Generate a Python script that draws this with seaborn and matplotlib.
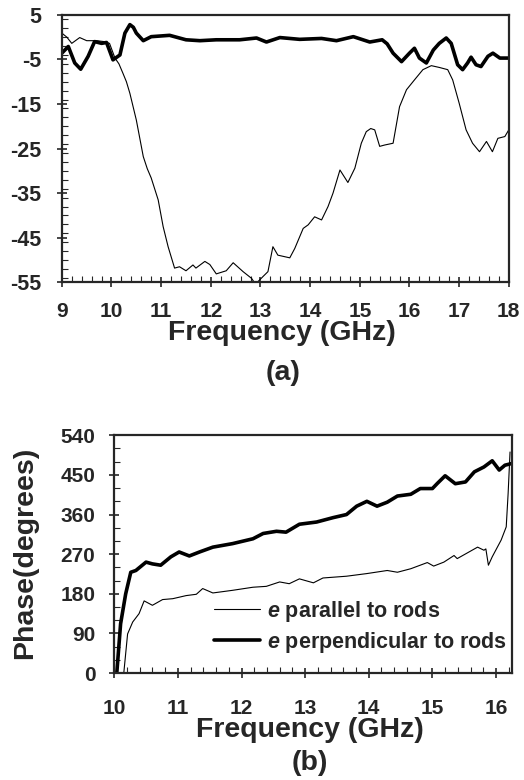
import numpy as np
import pandas as pd
import matplotlib
matplotlib.use("Agg")
import matplotlib.pyplot as plt
from matplotlib.ticker import MultipleLocator
import seaborn as sns

# ---- data: panel (a) ----
fa_thin = [9.0, 9.1, 9.2, 9.36, 9.5, 9.7, 9.85, 9.96, 10.07, 10.15, 10.23, 10.3, 10.37, 10.5, 10.64, 10.72,
           10.8, 10.94, 11.04, 11.14, 11.27, 11.37, 11.5, 11.64, 11.7, 11.88, 11.98, 12.11, 12.31, 12.45,
           12.65, 12.82, 12.9, 13.05, 13.15, 13.25, 13.35, 13.59, 13.69, 13.86, 13.96, 14.09, 14.23,
           14.36, 14.46, 14.6, 14.76, 14.9, 15.03, 15.13, 15.22, 15.3, 15.4, 15.5, 15.67, 15.8, 15.94,
           16.1, 16.27, 16.44, 16.6, 16.77, 16.87, 17.0, 17.14, 17.27, 17.41, 17.55, 17.67, 17.78,
           17.92, 18.0]
va_thin = [0.9, 0.0, -1.4, -0.1, -0.8, -0.8, -1.0, -1.4, -4.7, -6.0, -8.1, -10.0, -12.6, -18.6, -26.8,
           -29.5, -31.6, -36.5, -42.5, -47.0, -51.8, -51.5, -52.4, -51.1, -51.8, -50.3, -51.0, -53.1,
           -52.4, -50.6, -52.6, -54.1, -55.4, -53.7, -52.6, -47.0, -48.9, -49.5, -47.4, -42.9, -42.1,
           -40.3, -41.0, -38.0, -35.0, -29.8, -32.6, -29.4, -23.8, -21.2, -20.5, -20.8, -24.5, -24.2,
           -23.8, -15.6, -11.8, -9.6, -7.3, -6.4, -6.8, -7.3, -9.6, -14.8, -20.8, -23.8, -25.7,
           -23.4, -25.7, -22.7, -22.3, -20.8]

fa_thick = [9.0, 9.13, 9.26, 9.38, 9.53, 9.66, 9.8, 9.9, 10.03, 10.17, 10.27, 10.37, 10.44, 10.5, 10.64,
            10.8, 11.17, 11.5, 11.78, 12.11, 12.58, 12.92, 13.12, 13.39, 13.79, 14.23, 14.53, 14.87,
            15.2, 15.45, 15.55, 15.67, 15.84, 16.0, 16.1, 16.2, 16.34, 16.48, 16.6, 16.74, 16.84,
            16.97, 17.07, 17.17, 17.24, 17.34, 17.44, 17.58, 17.68, 17.82, 18.0]
va_thick = [-3.6, -2.1, -5.8, -7.2, -4.3, -1.0, -1.4, -1.2, -5.1, -4.0, 0.9, 2.8, 2.2, 0.9, -0.8,
            0.1, 0.4, -0.6, -0.8, -0.6, -0.6, -0.2, -1.1, -0.1, -0.5, -0.3, -0.8, 0.1, -1.1,
            -0.6, -1.5, -3.6, -5.5, -3.6, -2.5, -4.7, -5.8, -2.9, -1.4, -0.2, -1.4, -6.2, -7.3,
            -5.8, -4.5, -6.2, -6.6, -4.3, -3.6, -4.7, -4.7]

# ---- data: panel (b) ----
fb_par = [10.15, 10.21, 10.29, 10.39, 10.47, 10.6, 10.76, 10.92, 11.13, 11.29, 11.39, 11.55, 11.86,
          12.18, 12.39, 12.6, 12.75, 12.91, 13.13, 13.28, 13.65, 13.97, 14.29, 14.45, 14.66, 14.92,
          15.02, 15.18, 15.34, 15.39, 15.55, 15.71, 15.81, 15.84, 15.88, 15.94, 16.08, 16.16, 16.19, 16.22]
pb_par = [0, 89, 116, 135, 164, 154, 167, 169, 176, 179, 192, 182, 188,
          195, 197, 207, 203, 214, 205, 216, 220, 226, 233, 229, 237, 251,
          243, 252, 267, 260, 273, 286, 279, 282, 245, 264, 302, 332, 408, 502]

fb_perp = [10.04, 10.1, 10.18, 10.26, 10.34, 10.5, 10.6, 10.73, 10.89, 11.02, 11.18, 11.34, 11.55,
           11.86, 12.18, 12.34, 12.55, 12.7, 12.91, 13.18, 13.44, 13.65, 13.81, 13.97, 14.13, 14.29,
           14.45, 14.66, 14.81, 15.0, 15.08, 15.2, 15.36, 15.52, 15.66, 15.81, 15.94, 16.05, 16.14, 16.25]
pb_perp = [0, 112, 180, 229, 233, 252, 248, 245, 264, 275, 266, 275, 286,
           294, 305, 317, 322, 320, 338, 343, 353, 360, 379, 390, 379, 388,
           402, 406, 419, 419, 431, 448, 430, 434, 457, 468, 482, 461, 472, 476]

xticks_a = [9, 10, 11, 12, 13, 14, 15, 16, 17, 18]
yticks_a = [5, -5, -15, -25, -35, -45, -55]
xticks_b = [10, 11, 12, 13, 14, 15, 16]
yticks_b = [0, 90, 180, 270, 360, 450, 540]

sns.set_style("ticks")
plt.rcParams['font.family'] = ['Liberation Sans', 'DejaVu Sans']
plt.rcParams['font.weight'] = 'bold'
plt.rcParams['axes.unicode_minus'] = False
plt.rcParams['mathtext.fontset'] = 'custom'
plt.rcParams['mathtext.it'] = 'Liberation Sans:italic:bold'
plt.rcParams['mathtext.rm'] = 'Liberation Sans:bold'

fig = plt.figure(figsize=(5.24, 7.80), dpi=100)
ax1 = fig.add_axes([0.118, 0.638, 0.853, 0.343])
ax2 = fig.add_axes([0.218, 0.137, 0.759, 0.305])

# panel (a)
sns.lineplot(x=fa_thin, y=va_thin, ax=ax1, color='black', lw=0.8, sort=False)
sns.lineplot(x=fa_thick, y=va_thick, ax=ax1, color='black', lw=2.6, sort=False)
ax1.set_xlim(9, 18)
ax1.set_ylim(-55, 5)
ax1.set_xticks(xticks_a)
ax1.set_yticks(yticks_a)
ax1.xaxis.set_minor_locator(MultipleLocator(0.2))
ax1.yaxis.set_minor_locator(MultipleLocator(2))

# panel (b)
sns.lineplot(x=fb_par, y=pb_par, ax=ax2, color='black', lw=0.8, sort=False,
             label=r'$e$ parallel to rods')
sns.lineplot(x=fb_perp, y=pb_perp, ax=ax2, color='black', lw=2.6, sort=False,
             label=r'$e$ perpendicular to rods')
ax2.set_xlim(10, 16.25)
ax2.set_ylim(0, 540)
ax2.set_xticks(xticks_b)
ax2.set_yticks(yticks_b)
ax2.xaxis.set_minor_locator(MultipleLocator(0.2))
ax2.yaxis.set_minor_locator(MultipleLocator(30))
ax2.legend(loc='lower right', bbox_to_anchor=(1.01, 0.04), frameon=False,
           handlelength=2.15, handletextpad=0.33, labelspacing=0.3,
           borderaxespad=0.0, prop={'weight': 'bold', 'size': 15.5})

for ax in (ax1, ax2):
    for s in ax.spines.values():
        s.set_linewidth(1.6)
        s.set_visible(True)
    ax.tick_params(which='major', direction='inout', length=7, width=1.2,
                   labelsize=15, pad=10)
    ax.tick_params(which='minor', direction='in', length=4, width=0.8)
    for lab in ax.get_xticklabels() + ax.get_yticklabels():
        lab.set_fontweight('bold')

ax1.tick_params(axis='x', which='major', pad=11)
ax1.tick_params(axis='y', which='major', pad=11, labelsize=15.5)
ax2.tick_params(axis='x', which='major', pad=15)
ax2.tick_params(axis='y', which='major', pad=10)

ax1.set_xlabel('')
ax2.set_xlabel('')
fig.text(0.537, 1 - 333 / 780, 'Frequency (GHz)', ha='center', va='center',
         fontsize=20.5, fontweight='bold')
fig.text(0.54, 1 - 373 / 780, '(a)', ha='center', va='center',
         fontsize=20.5, fontweight='bold')
fig.text(0.592, 1 - 730 / 780, 'Frequency (GHz)', ha='center', va='center',
         fontsize=20.5, fontweight='bold')
fig.text(0.592, 1 - 763 / 780, '(b)', ha='center', va='center',
         fontsize=20.5, fontweight='bold')
fig.text(25 / 524, 1 - 553 / 780, 'Phase(degrees)', ha='center', va='center',
         rotation=90, fontsize=20.5, fontweight='bold')

fig.savefig('out.png', dpi=100)
